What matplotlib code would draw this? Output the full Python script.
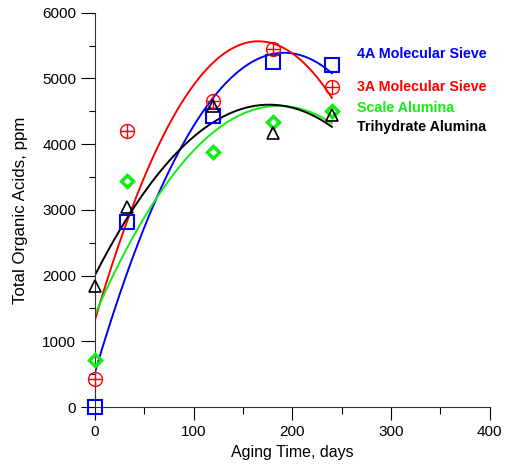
import numpy as np
import matplotlib.pyplot as plt
from matplotlib.ticker import MultipleLocator

plt.rcParams['font.family'] = ['Liberation Sans', 'DejaVu Sans']

days = [0, 32, 120, 180, 240]
sieve_4a = [0, 2820, 4434, 5246, 5205]
sieve_3a = [421, 4206, 4662, 5444, 4875]
scale_alumina = [715, 3445, 3886, 4333, 4510]
trihydrate_alumina = [1837, 3040, 4577, 4165, 4444]

names = ["4A Molecular Sieve", "3A Molecular Sieve", "Scale Alumina", "Trihydrate Alumina"]
label_y = [5373, 4871, 4551, 4262]

series = [
    (sieve_4a, 'blue', dict(marker='s', ms=10, mfc='none', mew=1.5)),
    (sieve_3a, 'red', None),
    (scale_alumina, '#11ee11', dict(marker='D', ms=6, mfc='none', mew=2.5)),
    (trihydrate_alumina, 'black', dict(marker='^', ms=9, mfc='none', mew=1.2)),
]

fig = plt.figure(figsize=(5.05, 4.69), dpi=100)
ax = fig.add_axes([0.188, 0.132, 0.782, 0.841])

t = np.linspace(0, 240, 200)
for (vals, color, style), name, ly in zip(series, names, label_y):
    # second-order fit through each set of points
    coef = np.polyfit(days, vals, 2)
    ax.plot(t, np.polyval(coef, t), color=color, lw=1.4)
    if style is None:
        ax.plot(days, vals, ls='none', marker='o', ms=10, mfc='none', mec=color,
                mew=1.0, clip_on=False, zorder=3)
        ax.plot(days, vals, ls='none', marker='+', ms=10, mec=color,
                mew=1.0, clip_on=False, zorder=3)
    else:
        ax.plot(days, vals, ls='none', mec=color, clip_on=False, zorder=3, **style)
    ax.text(265, ly, name, color=color, fontsize=10.3, fontweight='bold',
            va='center', ha='left')

ax.set_xlim(0, 400)
ax.set_ylim(0, 6000)
ax.xaxis.set_major_locator(MultipleLocator(100))
ax.xaxis.set_minor_locator(MultipleLocator(50))
ax.yaxis.set_major_locator(MultipleLocator(1000))
ax.yaxis.set_minor_locator(MultipleLocator(500))
ax.tick_params(which='major', length=9.5, width=0.8, direction='out', labelsize=11)
ax.tick_params(which='minor', length=5, width=0.8, direction='out')
ax.tick_params(axis='y', which='major', length=10)
ax.tick_params(axis='y', which='minor', length=4)
for side in ['top', 'right']:
    ax.spines[side].set_visible(False)
ax.spines['left'].set_color('#333333')
ax.spines['bottom'].set_color('#333333')

ax.set_xlabel("Aging Time, days", fontsize=11.5, labelpad=4)
ax.set_ylabel("Total Organic Acids, ppm", fontsize=12.2, labelpad=10)

fig.savefig("out.png", dpi=100)
